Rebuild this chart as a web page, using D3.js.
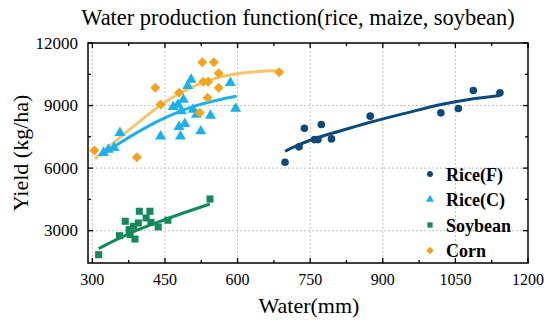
<!DOCTYPE html>
<html><head><meta charset="utf-8">
<script src="https://cdn.jsdelivr.net/npm/d3@7"></script>
<style>body{margin:0;background:#fff}svg{display:block}</style>
</head><body><svg id="c" width="550" height="330"></svg>
<script>
const seriesNames = ["Rice(F)", "Rice(C)", "Soybean", "Corn"];
const xTicks = [300, 450, 600, 750, 900, 1050, 1200];
const yTicks = [3000, 6000, 9000, 12000];

const riceFWater = [698, 727, 738, 759, 766, 773, 794, 874, 1020, 1056, 1087, 1142];
const riceFYield = [6280, 7020, 7910, 7370, 7370, 8090, 7400, 8490, 8650, 8860, 9720, 9610];
const riceFFitWater = [698, 720, 760, 810, 874, 950, 1020, 1078, 1142];
const riceFFitYield = [6810, 7050, 7420, 7770, 8200, 8650, 9050, 9290, 9480];

const riceCWater = [323, 333, 345, 357, 441, 467, 477, 479, 482, 484, 488, 491, 497, 504, 508, 515, 524, 544, 585, 596];
const riceCYield = [6730, 6890, 6970, 7690, 7530, 8940, 9050, 7980, 7530, 8730, 9290, 8120, 9950, 10250, 8810, 8570, 7770, 8520, 10090, 8860];
const riceCFitWater = [316, 360, 392, 440, 508, 560, 598];
const riceCFitYield = [6600, 7250, 7700, 8300, 8950, 9270, 9450];

const soyWater = [313, 356, 368, 376, 378, 385, 388, 395, 397, 411, 419, 421, 436, 456, 543];
const soyYield = [1850, 2760, 3450, 3050, 2810, 3210, 2600, 3370, 3930, 3610, 3930, 3400, 3180, 3500, 4520];
const soyFitWater = [313, 385, 440, 491, 543];
const soyFitYield = [2140, 2950, 3450, 3870, 4280];

const cornWater = [304, 392, 430, 441, 479, 522, 527, 529, 538, 539, 551, 561, 561, 686];
const cornYield = [6850, 6520, 9850, 9050, 9610, 8650, 11080, 10140, 9370, 10140, 11080, 10550, 9850, 10600];
const cornFitWater = [305, 385, 440, 522, 605, 686];
const cornFitYield = [6450, 8000, 9000, 10050, 10550, 10680];

const colors = ["#0c4a7b", "#1cb1ea", "#138a5a", "#f6a31c"];
const fitColors = ["#0c4a7b", "#1cb1ea", "#138a5a", "#f5c56a"];
const symbols = [d3.symbolCircle, d3.symbolTriangle, d3.symbolSquare, d3.symbolSquare];
const symRot = [0, 0, 0, 45];
const symSizes = [46, 52, 50, 50];

const series = [
  {w: riceFWater, y: riceFYield, fw: riceFFitWater, fy: riceFFitYield},
  {w: riceCWater, y: riceCYield, fw: riceCFitWater, fy: riceCFitYield},
  {w: soyWater, y: soyYield, fw: soyFitWater, fy: soyFitYield},
  {w: cornWater, y: cornYield, fw: cornFitWater, fy: cornFitYield}
];

const L = 88, R = 528, T = 43, B = 263;
const x = d3.scaleLinear().domain([291, 1200]).range([L, R]);
const y = d3.scaleLinear().domain([1450, 12000]).range([B, T]);
const svg = d3.select("#c");
const font = "'Liberation Serif','Times New Roman',serif";

// grid
const g = svg.append("g");
g.selectAll("line.gx").data(xTicks.filter(v => v < 1200)).enter().append("line")
  .attr("x1", d => x(d)).attr("x2", d => x(d)).attr("y1", T).attr("y2", B)
  .attr("stroke", "#c0c0c0").attr("stroke-width", 1).attr("stroke-dasharray", "2,2");
g.selectAll("line.gy").data(yTicks.filter(v => v < 12000)).enter().append("line")
  .attr("y1", d => y(d)).attr("y2", d => y(d)).attr("x1", L).attr("x2", R)
  .attr("stroke", "#c0c0c0").attr("stroke-width", 1).attr("stroke-dasharray", "2,2");

// fit lines
const line = d3.line().x(d => x(d[0])).y(d => y(d[1])).curve(d3.curveMonotoneX);
series.forEach((s, i) => {
  svg.append("path").datum(s.fw.map((w, j) => [w, s.fy[j]]))
    .attr("d", line).attr("fill", "none").attr("stroke", fitColors[i]).attr("stroke-width", 3);
});
// points
series.forEach((s, i) => {
  svg.append("g").selectAll("path").data(s.w.map((w, j) => [w, s.y[j]])).enter().append("path")
    .attr("d", d3.symbol().type(symbols[i]).size(symSizes[i]))
    .attr("transform", d => `translate(${x(d[0])},${y(d[1])}) rotate(${symRot[i]})`)
    .attr("fill", colors[i]);
});

// axes
const minorX = d3.range(375, 1200, 150);
const minorY = [4500, 7500, 10500];
const ax = svg.append("g").attr("font-family", font);
const stroke = (sel) => sel.attr("stroke", "#000").attr("stroke-width", 1.3);
[[xTicks, 5], [minorX, 3]].forEach(([vals, len]) => {
  vals.forEach(v => {
    stroke(ax.append("line").attr("x1", x(v)).attr("x2", x(v)).attr("y1", B).attr("y2", B - len));
    stroke(ax.append("line").attr("x1", x(v)).attr("x2", x(v)).attr("y1", T).attr("y2", T + len));
  });
});
[[yTicks, 5], [minorY, 3]].forEach(([vals, len]) => {
  vals.forEach(v => {
    stroke(ax.append("line").attr("y1", y(v)).attr("y2", y(v)).attr("x1", L).attr("x2", L + len));
    stroke(ax.append("line").attr("y1", y(v)).attr("y2", y(v)).attr("x1", R).attr("x2", R - len));
  });
});
ax.append("rect").attr("x", L).attr("y", T).attr("width", R - L).attr("height", B - T)
  .attr("fill", "none").attr("stroke", "#000").attr("stroke-width", 1.5);

ax.selectAll("text.xt").data(xTicks).enter().append("text")
  .attr("x", d => x(d)).attr("y", B + 22).attr("text-anchor", "middle")
  .attr("font-size", 16).text(d => d);
ax.selectAll("text.yt").data(yTicks).enter().append("text")
  .attr("x", L - 10).attr("y", d => y(d) + 5.5).attr("text-anchor", "end")
  .attr("font-size", 17).text(d => d);

svg.append("text").attr("x", 309).attr("y", 313).attr("text-anchor", "middle")
  .attr("font-family", font).attr("font-size", 22).text("Water(mm)");
svg.append("text").attr("transform", "translate(28,153) rotate(-90)").attr("text-anchor", "middle")
  .attr("font-family", font).attr("font-size", 22).text("Yield (kg/ha)");
svg.append("text").attr("x", 298).attr("y", 25).attr("text-anchor", "middle")
  .attr("font-family", font).attr("font-size", 22.4).text("Water production function(rice, maize, soybean)");

// legend
const leg = svg.append("g");
seriesNames.forEach((n, i) => {
  const yy = 174 + i * 25.5;
  leg.append("path").attr("d", d3.symbol().type(symbols[i]).size(28))
    .attr("transform", `translate(430,${yy}) rotate(${symRot[i]})`).attr("fill", colors[i]);
  leg.append("text").attr("x", 446).attr("y", yy + 6.5).attr("font-family", font)
    .attr("font-weight", "bold").attr("font-size", 18).text(n);
});
</script></body></html>
